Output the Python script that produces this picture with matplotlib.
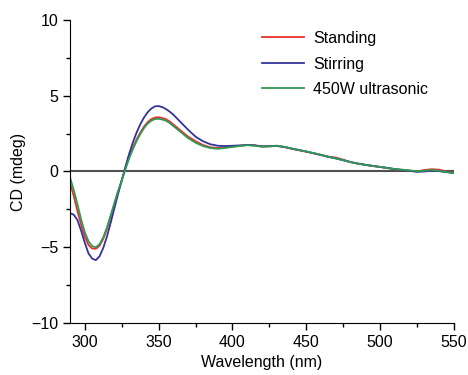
import matplotlib
matplotlib.use('Agg')
import matplotlib.pyplot as plt
from matplotlib.ticker import MultipleLocator

plt.rcParams['font.family'] = ['Liberation Sans', 'DejaVu Sans']

wavelength = [290, 292.5, 295, 297.5, 300, 302.5, 305, 307.5, 310, 312.5, 315, 317.5,
              320, 322.5, 325, 327.5, 330, 332.5, 335, 337.5, 340, 342.5, 345, 347.5,
              350, 352.5, 355, 357.5, 360,
              365, 370, 375, 380, 385, 390, 395, 400, 405, 410, 415, 420, 425, 430,
              435, 440, 445, 450, 455, 460, 465, 470, 475, 480, 485, 490, 495, 500,
              505, 510, 515, 520, 525, 530, 535, 540, 545, 550]

standing = [-0.75, -1.6, -2.6, -3.5, -4.3, -4.85, -5.08, -5.1, -4.9, -4.45, -3.8, -3.0,
            -2.15, -1.35, -0.6, 0.2, 0.95, 1.55, 2.1, 2.55, 2.95, 3.25, 3.45, 3.56,
            3.58, 3.53, 3.45, 3.3, 3.1,
            2.7, 2.3, 2.0, 1.75, 1.6, 1.55, 1.6, 1.65, 1.7, 1.75, 1.72, 1.65, 1.68, 1.7,
            1.62, 1.5, 1.4, 1.3, 1.2, 1.1, 0.98, 0.92, 0.78, 0.62, 0.52, 0.44, 0.36, 0.3,
            0.22, 0.15, 0.1, 0.05, 0.0, 0.1, 0.15, 0.12, 0.0, -0.08]

stirring = [-2.75, -2.85, -3.2, -3.9, -4.7, -5.4, -5.75, -5.85, -5.6, -5.05, -4.3, -3.4,
            -2.45, -1.5, -0.6, 0.3, 1.15, 1.9, 2.55, 3.1, 3.55, 3.9, 4.15, 4.3,
            4.32, 4.25, 4.12, 3.95, 3.75,
            3.25, 2.75, 2.3, 2.0, 1.8, 1.7, 1.68, 1.7, 1.72, 1.75, 1.73, 1.66, 1.66, 1.68,
            1.62, 1.52, 1.42, 1.32, 1.2, 1.08, 0.96, 0.86, 0.74, 0.62, 0.52, 0.44, 0.37,
            0.3, 0.24, 0.16, 0.1, 0.04, -0.02, 0.0, 0.06, 0.02, -0.04, -0.1]

ultrasonic = [-0.4, -1.2, -2.15, -3.15, -4.0, -4.6, -4.92, -5.0, -4.8, -4.35, -3.7, -2.9,
              -2.1, -1.3, -0.6, 0.15, 0.85, 1.45, 2.0, 2.45, 2.85, 3.15, 3.35, 3.46,
              3.48, 3.43, 3.35, 3.2, 3.0,
              2.6, 2.2, 1.9, 1.68, 1.55, 1.5, 1.55, 1.62, 1.68, 1.74, 1.7, 1.64, 1.66,
              1.7, 1.63, 1.52, 1.42, 1.32, 1.22, 1.1, 0.97, 0.87, 0.75, 0.62, 0.52, 0.44,
              0.37, 0.3, 0.23, 0.16, 0.12, 0.07, 0.02, 0.05, 0.1, 0.04, -0.04, -0.1]

series = [('Standing', standing, '#e8302a'),
          ('Stirring', stirring, '#33339a'),
          ('450W ultrasonic', ultrasonic, '#2e9a58')]

fig = plt.figure(figsize=(4.68, 3.75), dpi=100)
ax = fig.add_axes([70 / 468, 52 / 375, 384 / 468, 303 / 375])

ax.axhline(0, color='#505050', lw=1.5, zorder=1)
for label, vals, color in series:
    ax.plot(wavelength, vals, color=color, lw=1.3, label=label, zorder=2)

ax.set_xlim(290, 550)
ax.set_ylim(-10, 10)
ax.xaxis.set_major_locator(MultipleLocator(50))
ax.xaxis.set_minor_locator(MultipleLocator(25))
ax.yaxis.set_major_locator(MultipleLocator(5))
ax.yaxis.set_minor_locator(MultipleLocator(2.5))
ax.tick_params(which='major', direction='out', length=5, width=1, labelsize=11.5)
ax.tick_params(which='minor', direction='out', length=3, width=1)
ax.spines['top'].set_visible(False)
ax.spines['right'].set_visible(False)

ax.set_xlabel('Wavelength (nm)', fontsize=11.5)
ax.set_ylabel('CD (mdeg)', fontsize=11.5)

ax.legend(loc='upper left', bbox_to_anchor=(262 / 468, 344 / 375),
          bbox_transform=fig.transFigure, frameon=False, fontsize=11.5,
          borderpad=0, borderaxespad=0, handlelength=2.6, handletextpad=0.6,
          labelspacing=0.66)

fig.savefig('out.png', dpi=100)
